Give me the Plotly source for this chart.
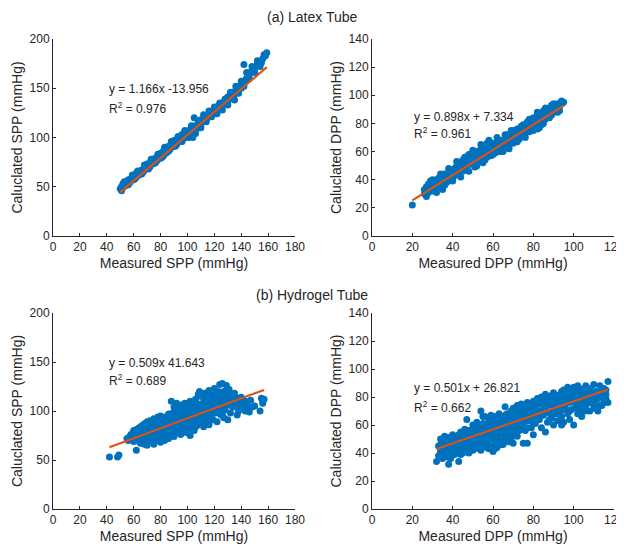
import plotly.graph_objects as go

# ---------------- data ----------------
# (a) Latex tube – SPP
latex_spp_meas = [50,51,52,52,53,54,55,55,56,57,58,58,59,60,60,61,62,62,63,64,65,65,66,67,68,68,69,70,70,71,72,72,73,74,75,75,76,77,78,78,79,80,80,81,82,82,83,84,85,85,86,87,88,88,89,90,90,91,92,92,93,94,95,95,96,97,98,98,99,100,100,101,102,103,104,105,105,106,107,108,108,109,110,110,111,112,113,114,115,116,117,118,119,120,120,121,122,123,124,125,126,127,128,129,130,130,131,132,133,134,135,135,136,137,138,139,140,141,142,143,144,145,146,147,148,150,152,154,156,158,159,
                  51,53,56,59,61,63,66,68,71,73,76,78,81,83,86,88,91,93,96,98,101,103,104,106,108,110,112,114,116,118,120,122,124,126,128,130,132,134,136,138,140,142,144,146,148,150,152,154,157,155]
latex_spp_calc = [48,50,49,53,52,51,55,53,57,54,58,56,59,57,61,62,60,64,63,62,66,64,67,65,70,67,71,69,73,72,74,70,76,73,77,75,79,76,80,78,82,79,84,83,86,81,88,84,89,86,91,88,93,90,95,91,97,94,98,93,99,96,101,97,103,99,104,100,106,101,104,107,103,110,106,120,108,112,109,114,111,116,113,118,116,120,118,122,120,124,122,126,124,128,126,130,128,132,130,134,133,136,134,139,137,141,139,143,141,146,144,138,148,146,150,152,150,155,174,158,160,162,164,166,168,170,175,177,180,183,186,
                  46,55,52,62,58,66,63,72,68,78,74,83,80,90,86,96,91,101,96,107,100,112,100,104,117,110,123,116,127,121,131,124,135,128,139,133,146,140,152,145,157,152,166,160,172,166,178,172,184,176]
latex_spp_fit_x = [50, 159]
latex_spp_fit_y = [44.3, 171.4]

# (a) Latex tube – DPP
latex_dpp_meas = [20,26,26,27,27,28,28,29,29,30,30,31,31,32,32,33,33,34,34,35,35,36,36,37,37,38,38,39,39,40,40,41,41,42,42,43,43,44,44,45,45,46,46,47,47,48,48,49,49,50,50,51,51,52,52,53,53,54,54,55,55,56,56,57,57,58,58,59,59,60,60,61,61,62,62,63,63,64,64,65,65,66,66,67,67,68,68,69,69,70,70,71,71,72,72,73,73,74,74,75,75,76,76,77,77,78,78,79,79,80,80,81,81,82,82,83,83,84,84,85,85,86,86,87,87,88,88,89,89,90,90,91,91,92,92,93,94,95,93,89,
                  30,32,34,36,38,40,42,44,46,48,50,52,54,56,58,60,62,64,66,68,70,72,74,76,78,80,82,84,86,88,90,92,94,85,75,65,55,45,35,57,63,67,83,82]
latex_dpp_calc = [22,33,30,28,35,31,37,33,39,32,36,38,34,40,31,37,41,35,39,42,37,40,44,38,42,45,41,43,47,41,45,48,43,46,50,44,49,52,47,50,54,48,52,56,50,54,58,51,56,58,53,49,57,60,55,53,59,62,57,55,61,64,58,56,62,65,60,57,63,66,61,59,64,67,62,60,65,68,63,66,61,69,64,67,72,65,70,75,68,71,66,73,69,76,71,74,69,77,72,75,79,73,78,81,76,79,74,82,77,80,84,78,83,86,81,84,79,87,82,85,89,83,88,90,85,88,91,86,90,92,88,90,93,91,94,92,94,95,89,93,
                  40,35,44,36,48,39,53,42,56,46,61,50,65,54,68,58,70,60,72,62,75,67,78,70,83,75,88,79,91,84,94,88,96,80,71,60,52,46,33,66,68,63,77,76]
latex_dpp_fit_x = [20, 95]
latex_dpp_fit_y = [25.3, 92.6]

# (b) Hydrogel tube – SPP
hydro_spp_meas = [42,48,49,62,55,56,57,58,58,59,60,60,61,61,62,63,63,64,64,65,65,66,66,67,67,68,68,68,69,69,70,70,70,71,71,72,72,72,73,73,74,74,75,75,75,76,76,77,77,78,78,78,79,79,80,80,80,81,81,82,82,83,83,84,84,85,85,86,86,86,87,87,88,88,88,89,89,90,90,90,91,91,92,92,92,93,93,94,94,95,95,95,96,96,97,97,98,98,98,99,99,100,100,100,101,101,102,102,102,103,103,104,104,105,105,106,106,107,107,108,108,109,109,110,110,111,111,112,112,113,113,114,114,115,115,116,116,117,117,118,118,119,119,120,120,121,121,122,122,123,123,124,124,125,125,126,126,127,127,128,128,129,130,130,130,131,132,132,133,134,135,136,137,138,139,140,142,143,144,146,147,148,150,154,155,156,156,157,
                  62,64,66,67,69,70,71,73,74,75,76,77,78,79,80,80,81,82,83,84,84,85,85,86,87,87,88,89,89,90,90,91,92,92,93,93,94,94,95,95,96,96,97,97,98,98,99,99,100,100,101,101,102,103,103,104,104,105,105,106,106,107,107,108,108,109,110,110,111,112,112,113,114,115,116,116,117,118,119,120,120,122,122,124,124,126,126,128,128,130,130,132,133,134,136,138,140,141,143,145]
hydro_spp_calc = [53,53,55,60,72,70,74,71,76,73,69,80,75,72,81,74,70,83,77,73,67,85,78,74,70,87,80,66,76,72,89,82,65,78,74,90,84,69,80,76,86,71,92,79,66,83,74,88,70,94,80,76,85,72,95,82,68,88,77,74,91,84,70,93,79,87,76,97,83,72,89,79,110,96,84,91,77,104,87,74,94,81,108,98,88,85,78,103,92,96,82,76,106,88,100,80,108,93,85,102,78,108,96,88,100,82,110,93,75,104,86,107,95,101,80,112,91,105,85,117,97,120,93,107,88,115,100,109,84,118,96,105,90,113,99,121,86,108,95,116,101,111,91,123,105,98,117,112,89,120,102,127,108,96,115,128,104,120,93,112,101,126,117,106,91,122,110,98,115,104,118,107,96,113,106,110,103,100,108,99,111,104,105,100,113,108,111,112,
                  80,72,75,85,80,77,85,88,78,83,90,80,86,93,76,87,94,80,90,74,86,95,81,88,92,75,87,98,82,92,80,88,95,78,92,102,86,80,98,89,92,80,104,88,96,80,92,86,98,84,104,90,97,94,82,99,88,106,92,96,84,108,94,101,90,104,96,115,92,102,96,108,98,104,95,110,100,106,114,98,110,104,118,98,112,108,96,116,105,110,122,115,105,110,112,100,114,106,110,104]
hydro_spp_fit_x = [42, 157]
hydro_spp_fit_y = [63.0, 121.5]

# (b) Hydrogel tube – DPP
hydro_dpp_meas = [32,33,33,34,34,35,35,36,36,37,37,38,38,38,39,39,40,40,40,41,41,42,42,43,43,44,44,45,45,46,46,47,47,47,48,48,49,49,50,50,50,51,51,52,52,52,53,53,54,54,54,55,55,56,56,56,57,57,58,58,58,59,59,60,60,60,61,61,61,62,62,62,63,63,63,64,64,65,65,65,66,66,66,67,67,68,68,68,69,69,70,70,70,71,71,72,72,72,73,73,74,74,75,75,75,76,76,77,77,77,78,78,79,79,80,80,80,81,81,82,82,83,83,84,84,85,85,86,86,86,87,87,88,88,89,89,90,90,90,91,91,92,92,93,93,94,94,95,95,95,96,96,97,97,98,98,99,99,100,100,100,101,101,102,102,103,103,104,104,105,105,106,106,107,107,108,108,109,110,110,111,112,112,113,114,114,115,115,116,117,117,116,
                  34,35,36,37,38,39,40,41,42,43,44,45,46,47,48,49,50,51,52,53,54,55,55,56,57,57,58,59,59,60,60,61,61,62,62,63,63,64,64,65,65,66,66,67,67,68,69,69,70,70,71,71,72,73,73,74,74,75,76,76,77,78,78,79,80,80,81,82,82,83,84,84,85,86,87,88,88,89,90,91,92,93,94,95,96,96,97,98,99,100,101,102,103,104,105,106,107,108,109,110,111,113,114,116,102,106,92,94,98,104,110,113]
hydro_dpp_calc = [34,38,45,50,41,36,47,43,52,39,48,32,45,51,41,36,49,44,53,39,46,51,42,34,48,44,55,40,50,47,57,64,43,53,49,40,56,46,52,42,60,48,56,44,62,51,58,47,70,54,42,50,61,45,57,66,53,48,63,43,58,50,67,55,41,62,47,59,66,52,44,63,57,49,68,54,61,46,65,58,73,51,62,56,68,48,60,65,70,54,47,63,72,58,67,52,70,74,62,56,69,75,47,60,66,72,56,47,69,76,63,74,58,70,77,66,53,73,61,79,69,64,75,58,80,71,67,55,77,82,62,74,69,80,65,76,60,83,72,68,78,63,81,75,70,84,66,78,62,85,72,80,68,87,76,64,82,71,60,87,77,73,84,68,88,79,74,85,66,81,76,88,70,83,78,70,86,80,89,74,84,70,79,88,82,74,76,86,79,76,91,85,
                  46,40,49,44,37,48,40,51,46,53,39,54,43,49,56,42,47,58,54,43,59,46,66,52,60,44,53,45,61,51,58,43,55,60,48,53,64,46,58,54,62,48,67,53,63,57,62,50,58,68,54,63,61,67,72,59,65,70,63,68,58,67,71,65,72,61,69,64,75,70,76,67,78,72,69,76,64,81,77,73,77,80,73,71,76,84,79,85,77,80,76,82,86,79,85,80,86,76,84,81,78,80,86,82,72,74,68,60,70,70,72,74]
hydro_dpp_fit_x = [32, 117]
hydro_dpp_fit_y = [42.9, 85.4]

x_titles = ["Measured SPP (mmHg)", "Measured DPP (mmHg)", "Measured SPP (mmHg)", "Measured DPP (mmHg)"]
y_titles = ["Caluclated SPP (mmHg)", "Caluclated DPP (mmHg)", "Caluclated SPP (mmHg)", "Caluclated DPP (mmHg)"]
eq_texts = ["y = 1.166x -13.956", "y = 0.898x + 7.334", "y = 0.509x 41.643", "y = 0.501x + 26.821"]
r2_texts = ["R<sup>2</sup> = 0.976", "R<sup>2</sup> = 0.961", "R<sup>2</sup> = 0.689", "R<sup>2</sup> = 0.662"]
panel_titles = ["(a) Latex Tube", "(b) Hydrogel Tube"]

# ---------------- figure ----------------
OFF = 8              # page body margin of the html page
W, H = 624 - OFF, 548 - OFF
BLUE = "#0072BD"
ORANGE = "#D95319"
INK = "#262626"
FONT = "Liberation Sans, Arial, sans-serif"

fig = go.Figure()

scatter_sets = [
    (latex_spp_meas, latex_spp_calc, latex_spp_fit_x, latex_spp_fit_y),
    (latex_dpp_meas, latex_dpp_calc, latex_dpp_fit_x, latex_dpp_fit_y),
    (hydro_spp_meas, hydro_spp_calc, hydro_spp_fit_x, hydro_spp_fit_y),
    (hydro_dpp_meas, hydro_dpp_calc, hydro_dpp_fit_x, hydro_dpp_fit_y),
]

# pixel boxes (page coordinates) of each plot area: left, right, top, bottom
boxes = [(53, 295, 39, 236), (372, 614, 39, 236), (53, 295, 313, 509), (372, 614, 313, 509)]
x_ranges = [[0, 180], [0, 120], [0, 180], [0, 120]]
y_ranges = [[0, 200], [0, 140], [0, 200], [0, 140]]
x_dticks = [20, 20, 20, 20]
y_dticks = [50, 20, 50, 20]
eq_pos = [(40, 149, 130), (20, 84.6, 73), (40, 149, 132), (20, 86.6, 73)]


def px_x(p):
    return (p - OFF) / W


def px_y(p):
    return 1 - (p - OFF) / H


layout = dict(
    width=W, height=H,
    margin=dict(l=0, r=0, t=0, b=0),
    paper_bgcolor="white", plot_bgcolor="white",
    showlegend=False,
    font=dict(family=FONT, color=INK, size=12),
    annotations=[],
)

for i, (mx, my, fx, fy) in enumerate(scatter_sets):
    suf = "" if i == 0 else str(i + 1)
    xa, ya = "x" + suf, "y" + suf
    fig.add_trace(go.Scatter(x=mx, y=my, mode="markers", xaxis=xa, yaxis=ya,
                             marker=dict(color=BLUE, size=7, line=dict(width=0))))
    fig.add_trace(go.Scatter(x=fx, y=fy, mode="lines", xaxis=xa, yaxis=ya,
                             line=dict(color=ORANGE, width=2.2)))
    l, r, t, b = boxes[i]
    common = dict(showline=True, linecolor=INK, linewidth=1, showgrid=False, zeroline=False,
                  ticks="inside", ticklen=3, tickcolor=INK, mirror=False,
                  ticklabeloverflow="allow",
                  tickfont=dict(family=FONT, size=12, color=INK), automargin=False)
    layout["xaxis" + suf] = dict(domain=[px_x(l), px_x(r)], anchor=ya, range=x_ranges[i],
                                 dtick=x_dticks[i], tick0=0,
                                 title=dict(text=x_titles[i], font=dict(size=14, family=FONT, color=INK), standoff=4),
                                 **common)
    layout["yaxis" + suf] = dict(domain=[px_y(b), px_y(t)], anchor=xa, range=y_ranges[i],
                                 dtick=y_dticks[i], tick0=0,
                                 title=dict(text=y_titles[i], font=dict(size=14, family=FONT, color=INK), standoff=3),
                                 **common)
    ex, ey1, ey2 = eq_pos[i]
    layout["annotations"].append(dict(x=ex, y=ey1, xref=xa, yref=ya, text=eq_texts[i], showarrow=False,
                                      xanchor="left", yanchor="middle", font=dict(size=12, family=FONT, color=INK)))
    layout["annotations"].append(dict(x=ex, y=ey2, xref=xa, yref=ya, text=r2_texts[i], showarrow=False,
                                      xanchor="left", yanchor="middle", font=dict(size=12, family=FONT, color=INK)))

layout["annotations"].append(dict(x=px_x(312), y=px_y(17), xref="paper", yref="paper", text=panel_titles[0],
                                  showarrow=False, xanchor="center", yanchor="middle",
                                  font=dict(size=14, family=FONT, color=INK)))
layout["annotations"].append(dict(x=px_x(312), y=px_y(295), xref="paper", yref="paper", text=panel_titles[1],
                                  showarrow=False, xanchor="center", yanchor="middle",
                                  font=dict(size=14, family=FONT, color=INK)))

fig.update_layout(**layout)
fig.write_html("out.html")
